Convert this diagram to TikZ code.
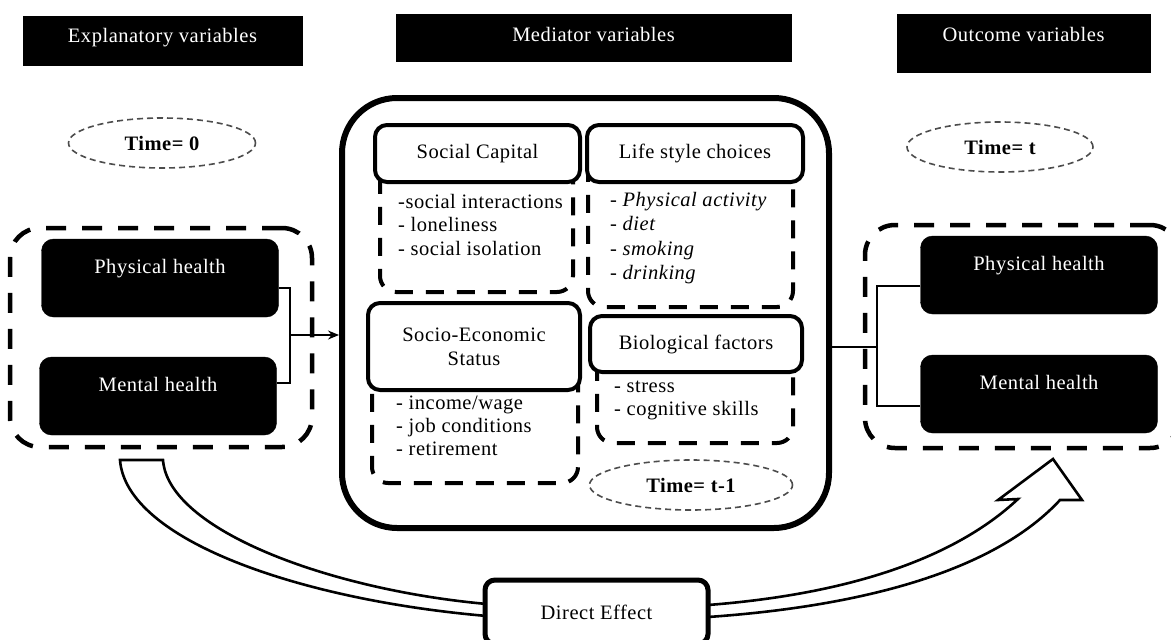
\documentclass[tikz,border=0pt]{standalone}
\usepackage{fontspec}
\setmainfont{Liberation Serif}[LetterSpace=2.5, ItalicFont={Liberation Serif Italic}, BoldFont={Liberation Serif Bold}, BoldItalicFont={Liberation Serif Bold Italic}]
\usetikzlibrary{shapes.geometric,arrows.meta,calc}
\begin{document}
\begin{tikzpicture}[x=1pt,y=-1pt,
  every node/.style={font=\fontsize{20.5}{24}\selectfont},
  hdr/.style={fill=black, draw=black, text=white, inner sep=0pt, text height=14pt},
  blk/.style={fill=black, draw=black, rounded corners=12pt, text=white, minimum width=237pt, minimum height=78pt, text height=14pt, text depth=24pt, inner sep=0pt},
  grp/.style={draw, line width=4.5pt, dash pattern=on 20pt off 16pt, rounded corners=30pt, inner sep=0pt},
  bigbox/.style={draw, line width=6pt, rounded corners=55pt, inner sep=0pt},
  dsh/.style={draw, line width=4pt, dash pattern=on 18pt off 13pt, rounded corners=16pt, inner sep=0pt},
  ibox/.style={draw, fill=white, line width=4pt, rounded corners=12pt, inner sep=0pt, align=center},
  items/.style={align=left, anchor=north west, inner sep=0pt, font=\fontsize{20.5}{23.5}\selectfont},
  tell/.style={ellipse, draw=black!70, line width=1.6pt, dash pattern=on 6pt off 4pt, inner sep=0pt, font=\bfseries\fontsize{20.5}{24}\selectfont},
  conn/.style={line width=1.4pt},
  debox/.style={draw, fill=white, line width=5pt, rounded corners=10pt, inner sep=0pt}
]
\clip (0,0) rectangle (1171,640);

% headers
\node[hdr, minimum width=279pt, minimum height=49pt, text depth=11pt] (hexp) at (162.5,40.5) {Explanatory variables};
\node[hdr, minimum width=395pt, minimum height=47pt, text depth=7pt] (hmed) at (593.5,37.5) {Mediator variables};
\node[hdr, minimum width=253pt, minimum height=58pt, text depth=18pt] (hout) at (1023.5,43) {Outcome variables};

% time ellipses
\node[tell, minimum width=187pt, minimum height=50pt] (t0) at (162,143) {Time= 0};
\node[tell, minimum width=186pt, minimum height=50pt] (tt) at (1000,147) {Time= t};

% groups
\node[grp, minimum width=302pt, minimum height=219pt] (gl) at (161,337.5) {};
\node[grp, minimum width=315pt, minimum height=223pt] (gr) at (1022.5,336.5) {};

\node[blk] (physL) at (160,278) {Physical health};
\node[blk] (mentL) at (158,396) {Mental health};
\node[blk] (physR) at (1039,275) {Physical health};
\node[blk] (mentR) at (1039,394) {Mental health};

% mediator box
\node[bigbox, minimum width=487pt, minimum height=430pt] (big) at (585.5,313) {};

\node[dsh, minimum width=193pt, minimum height=132pt] (scD) at (476.5,226) {};
\node[dsh, minimum width=205pt, minimum height=147pt] (lsD) at (690.5,233.5) {};
\node[dsh, minimum width=206pt, minimum height=123pt] (sesD) at (475,421.5) {};
\node[dsh, minimum width=196pt, minimum height=93pt] (bioD) at (695,396.5) {};

\node[ibox, minimum width=205pt, minimum height=57pt] (sc) at (477.5,153.5) {Social Capital};
\node[ibox, minimum width=216pt, minimum height=57pt] (ls) at (695,153.5) {Life style choices};
\node[ibox, minimum width=212pt, minimum height=87pt] (ses) at (474,346.5) {Socio-Economic\\Status};
\node[ibox, minimum width=212pt, minimum height=56pt] (bio) at (696,344) {Biological factors};

\node[items] (scI) at (398,194) {-social interactions\\- loneliness\\- social isolation};
\node[items, font=\itshape\fontsize{20.5}{24.5}\selectfont] (lsI) at (610,192) {- Physical activity\\- diet\\- smoking\\- drinking};
\node[items, font=\fontsize{20.5}{23}\selectfont] (sesI) at (396,396) {- income/wage\\- job conditions\\- retirement};
\node[items, font=\fontsize{20.5}{23}\selectfont] (bioI) at (614,381) {- stress\\- cognitive skills};

\node[tell, minimum width=203pt, minimum height=50pt] (tt1) at (691,485) {Time= t-1};

% connectors
\coordinate (jl) at (290,335);
\draw[conn] ($(physL.east)+(0,10)$) -| (jl) |- ($(mentL.east)+(0,-13)$);
\draw[conn, -{Stealth[length=11pt,width=9pt]}] (jl) -- (jl -| big.west);
\coordinate (jr) at (877,347);
\draw[conn] (jr -| big.east) -- (jr);
\draw[conn] ($(physR.west)+(0,11)$) -| (jr) |- ($(mentR.west)+(0,12)$);

% direct effect curved arrow
\draw[line width=2.6pt, fill=white, line join=miter]
  (120,460) -- (163,460)
  .. controls (168,530) and (330,590) .. (487,604)
  -- (708,605)
  .. controls (850,594) and (955,558) .. (1018,499)
  -- (998,500) -- (1053,459) -- (1082,500) -- (1060,500)
  .. controls (1000,565) and (880,605) .. (708,617)
  -- (487,616)
  .. controls (300,600) and (126,540) .. (120,460)
  -- cycle;
\node[debox, minimum width=223pt, minimum height=64pt] (de) at (596.5,612) {Direct Effect};
\end{tikzpicture}
\end{document}
